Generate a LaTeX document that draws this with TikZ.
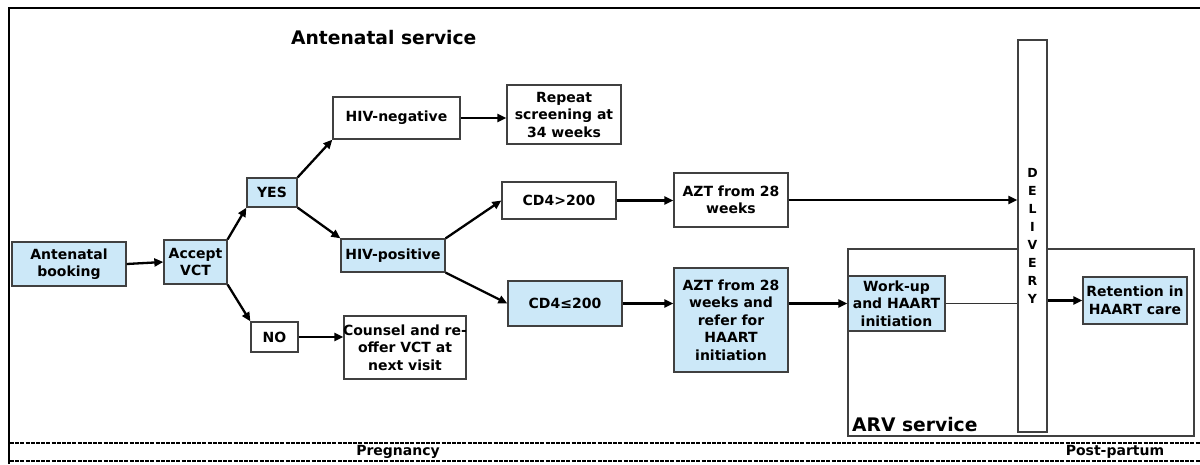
\documentclass[tikz,border=0pt]{standalone}
\usepackage{fontspec}
\setmainfont{DejaVu Sans}
\usetikzlibrary{arrows.meta,calc}
\definecolor{boxblue}{HTML}{CCE8F8}
\definecolor{boxline}{HTML}{404040}
\tikzset{
  box/.style={draw=boxline, line width=1.3pt, fill=white, align=center, inner sep=0pt,
    font=\fontsize{14}{17.5}\selectfont\bfseries},
  bluebox/.style={box, fill=boxblue},
  arr/.style={line width=2.3pt, -{Triangle[length=9pt,width=8pt]}},
  thin/.style={line width=1pt, draw=black!80},
  frame/.style={line width=2.8pt},
  sep/.style={line width=1.5pt, dash pattern=on 4pt off 1.2pt},
  title/.style={font=\fontsize{18.7}{20}\selectfont\bfseries, inner sep=0pt},
  phase/.style={font=\fontsize{14}{15}\selectfont\bfseries, inner sep=0pt}
}
\begin{document}
\begin{tikzpicture}[x=1pt,y=-1pt]
\useasboundingbox (0,0) rectangle (1200,464);
% frame
\draw[frame] (9,464) -- (9,8) -- (1200,8);
\draw[sep] (10,443) -- (1200,443);
\draw[sep] (10,461) -- (1200,461);
\node[phase] (preg) at (398,452) {Pregnancy};
\node[phase] (post) at (1115,452) {Post-partum};
% titles
\node[title, anchor=base west] (ant) at (291,44) {Antenatal service};
% ARV service area
\draw[line width=1.3pt, draw=boxline] (848,249) rectangle (1194,436);
\node[title, anchor=base west] (arv) at (852,431) {ARV service};
% delivery bar
\node[box, minimum width=29pt, minimum height=392pt, font=\fontsize{12.5}{18}\selectfont\bfseries] (deliv) at (1032.5,236) {D\\E\\L\\I\\V\\E\\R\\Y};
% nodes
\node[bluebox, minimum width=114pt, minimum height=44pt] (book) at (69,264) {Antenatal\\booking};
\node[bluebox, minimum width=63pt, minimum height=44pt] (accept) at (195.5,262) {Accept\\VCT};
\node[bluebox, minimum width=50pt, minimum height=29pt] (yes) at (272,192.5) {YES};
\node[box, minimum width=47pt, minimum height=30pt] (no) at (274.5,337) {NO};
\node[box, minimum width=127pt, minimum height=42pt] (neg) at (396.5,118) {HIV-negative};
\node[box, minimum width=114pt, minimum height=59pt] (repeat) at (564,114.5) {Repeat\\screening at\\34 weeks};
\node[bluebox, minimum width=104pt, minimum height=33pt] (pos) at (393,255.5) {HIV-positive};
\node[box, minimum width=122pt, minimum height=63pt] (counsel) at (405,347.5) {\makebox[0pt]{Counsel and re-}\\offer VCT at\\next visit};
\node[box, minimum width=114pt, minimum height=37pt] (cdhi) at (559,200.5) {CD4>200};
\node[bluebox, minimum width=114pt, minimum height=45pt] (cdlo) at (565,303.5) {CD4≤200};
\node[box, minimum width=114pt, minimum height=54pt] (azt) at (731,200) {AZT from 28\\weeks};
\node[bluebox, minimum width=114pt, minimum height=104pt] (aztref) at (731,320) {AZT from 28\\weeks and\\refer for\\HAART\\initiation};
\node[bluebox, minimum width=97pt, minimum height=55pt] (work) at (896.5,303.5) {Work-up\\and HAART\\initiation};
\node[bluebox, minimum width=104pt, minimum height=47pt] (ret) at (1135,300.5) {Retention in\\HAART care};
% connectors
\draw[arr] (book.east) -- (accept.west);
\draw[arr] (accept.north east) -- (yes.south west);
\draw[arr] (accept.south east) -- (no.north west);
\draw[arr] (yes.north east) -- (neg.south west);
\draw[arr] (yes.south east) -- (pos.north west);
\draw[arr] (neg.east) -- (neg.east -| repeat.west);
\draw[arr] (no.east) -- (no.east -| counsel.west);
\draw[arr] (pos.north east) -- (cdhi.west);
\draw[arr] (pos.south east) -- (cdlo.west);
\draw[arr] (cdhi.east) -- (cdhi.east -| azt.west);
\draw[arr] (cdlo.east) -- (cdlo.east -| aztref.west);
\draw[arr] (azt.east) -- (azt.east -| deliv.west);
\draw[arr] (work.west -| aztref.east) -- (work.west);
\draw[thin] (work.east) -- (work.east -| deliv.west);
\draw[arr] (ret.west -| deliv.east) -- (ret.west);
\end{tikzpicture}
\end{document}
